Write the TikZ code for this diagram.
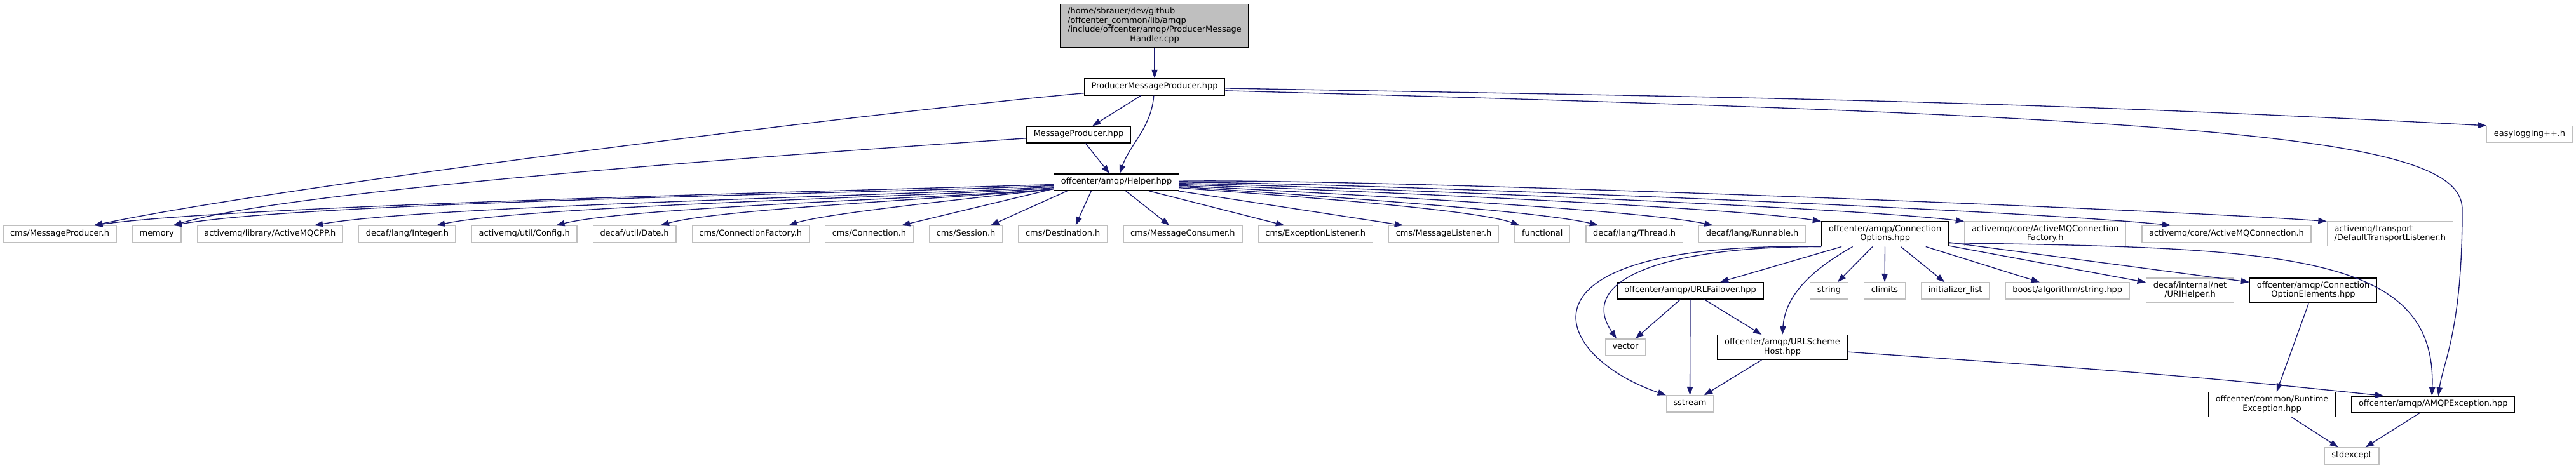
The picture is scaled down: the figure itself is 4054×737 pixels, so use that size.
\documentclass[tikz,border=0pt]{standalone}
\usepackage{fontspec}
\setmainfont{DejaVu Sans}
\usetikzlibrary{arrows.meta,positioning,calc}
\definecolor{edgeblue}{RGB}{25,25,112}
\definecolor{greyline}{RGB}{191,191,191}
\newcommand{\twoline}[2]{\begin{tabular}{@{}l@{}}#1\\\multicolumn{1}{@{}c@{}}{#2}\end{tabular}}

\begin{document}
\begin{tikzpicture}[x=0.75pt, y=-0.75pt, node distance=18pt, every node/.style={font=\fontsize{9.7}{11}\selectfont}, file/.style={draw,fill=white,line width=1pt,inner xsep=8.4pt,inner ysep=3.5pt,minimum height=19.5pt,execute at begin node=\strut}, doc/.style={file,draw=black}, ext/.style={file,draw=greyline}, rootbox/.style={file,draw=black,fill=greyline}, inc/.style={-{Triangle[length=10pt,width=7pt]},line width=1pt,edgeblue}]
\useasboundingbox (0,0) rectangle (4054,737);
\node[rootbox] (root) at (1817,40.5) {\begin{tabular}{@{}l@{}}/home/sbrauer/dev/github\\/offcenter\_common/lib/amqp\\/include/offcenter/amqp/ProducerMessage\\\multicolumn{1}{@{}c@{}}{Handler.cpp}\end{tabular}};
\node[doc] (pmp) at (1817,137) {ProducerMessageProducer.hpp};
\node[doc] (mph) at (1697.5,212) {MessageProducer.hpp};
\node[ext] (elog) at (3981,211.5) {easylogging++.h};
\node[doc] (helper) at (1757,287) {offcenter/amqp/Helper.hpp};
% headers pulled in by Helper.hpp
\node[ext] (cmsmp) at (94,368.5) {cms/MessageProducer.h};
\node[ext,right=of cmsmp] (mem) {memory};
\node[ext,right=of mem] (amqcpp) {activemq/library/ActiveMQCPP.h};
\node[ext,right=of amqcpp] (integer) {decaf/lang/Integer.h};
\node[ext,right=of integer] (config) {activemq/util/Config.h};
\node[ext,right=of config] (date) {decaf/util/Date.h};
\node[ext,right=of date] (connfac) {cms/ConnectionFactory.h};
\node[ext,right=of connfac] (conn) {cms/Connection.h};
\node[ext,right=of conn] (session) {cms/Session.h};
\node[ext,right=of session] (dest) {cms/Destination.h};
\node[ext,right=of dest] (consumer) {cms/MessageConsumer.h};
\node[ext,right=of consumer] (exclist) {cms/ExceptionListener.h};
\node[ext,right=of exclist] (msglist) {cms/MessageListener.h};
\node[ext,right=of msglist] (func) {functional};
\node[ext,right=of func] (thread) {decaf/lang/Thread.h};
\node[ext,right=of thread] (runnable) {decaf/lang/Runnable.h};
\node[doc,right=of runnable] (connopt) {\twoline{offcenter/amqp/Connection}{Options.hpp}};
\node[ext,right=of connopt] (amqcf) {\twoline{activemq/core/ActiveMQConnection}{Factory.h}};
\node[ext,right=of amqcf] (amqconn) {activemq/core/ActiveMQConnection.h};
\node[ext,right=of amqconn] (deftl) {\twoline{activemq/transport}{/DefaultTransportListener.h}};
% headers pulled in by ConnectionOptions.hpp
\node[doc] (urlfail) at (2660,458) {offcenter/amqp/URLFailover.hpp};
\node[ext] (string) at (2878.5,458) {string};
\node[ext,right=of string] (climits) {climits};
\node[ext,right=of climits] (initl) {initializer\_list};
\node[ext,right=of initl] (boost) {boost/algorithm/string.hpp};
\node[ext] (urihelp) at (3446.5,457.5) {\twoline{decaf/internal/net}{/URIHelper.h}};
\node[doc,right=of urihelp] (coe) {\twoline{offcenter/amqp/Connection}{OptionElements.hpp}};
\node[ext] (vector) at (2558,547) {vector};
\node[doc] (urlsh) at (2805,547) {\twoline{offcenter/amqp/URLScheme}{Host.hpp}};
\node[ext] (sstream) at (2659.5,636) {sstream};
\node[doc] (rtex) at (3575.5,637) {\twoline{offcenter/common/Runtime}{Exception.hpp}};
\node[doc,right=of rtex] (amqpex) {offcenter/amqp/AMQPException.hpp};
\node[ext] (stdexc) at (3701,718) {stdexcept};

\draw[inc] (root) -- (pmp);
\draw[inc] (pmp) -- (mph);
\draw[inc] (pmp.-95) .. controls +(-4,50) and +(17,-47) .. (helper.70);
\draw[inc] (mph) -- (helper);
\draw[inc] (pmp.185) .. controls +(-304,27) and +(298,-63) .. ($(cmsmp.north)+(54,0)$);
\draw[inc] (mph.184) .. controls +(-263,18) and +(200,-60) .. ($(mem.north)+(26,0)$);
\draw[inc] (pmp.-1) .. controls +(778,14) and +(-777,-41) .. (elog.north west);
\draw[inc] (pmp.-3) .. controls (3500,185) and (3875,215) .. (3875,330) .. controls (3875,520) and (3845,570) .. ($(amqpex.north)+(8,0)$);
% Helper.hpp fan
\draw[inc] (helper.182) .. controls +(-237,8) and +(235,-33) .. ($(cmsmp.north)+(54,0)$);
\draw[inc] (helper.183) .. controls +(-218,11) and +(215,-38) .. ($(mem.north)+(26,0)$);
\draw[inc] (helper.184) .. controls +(-183,13) and +(180,-32) .. ($(amqcpp.north)+(70,0)$);
\draw[inc] (helper.185) .. controls +(-152,13) and +(150,-32) .. ($(integer.north)+(46,0)$);
\draw[inc] (helper.186) .. controls +(-123,13) and +(120,-30) .. ($(config.north)+(50,0)$);
\draw[inc] (helper.186) .. controls +(-98,12) and +(95,-27) .. ($(date.north)+(41,0)$);
\draw[inc] (helper.186) .. controls +(-66,9) and +(64,-21) .. ($(connfac.north)+(60,0)$);
\draw[inc] (helper.186) -- ($(conn.north)+(51,0)$);
\draw[inc] (helper.190) -- ($(session.north)+(39,0)$);
\draw[inc] (helper.199) -- ($(dest.north)+(20,0)$);
\draw[inc] (helper.-43) -- ($(consumer.north)+(-21,0)$);
\draw[inc] (helper.-15) -- ($(exclist.north)+(-49,0)$);
\draw[inc] (helper.-8) -- ($(msglist.north)+(-64,0)$);
\draw[inc] (helper.-5) .. controls +(83,7) and +(-78,-28) .. ($(func.north)+(-36,0)$);
\draw[inc] (helper.-4) .. controls +(102,7) and +(-99,-25) .. ($(thread.north)+(-57,0)$);
\draw[inc] (helper.-3) .. controls +(130,7) and +(-127,-27) .. ($(runnable.north)+(-62,0)$);
\draw[inc] (helper.-2) .. controls +(156,5) and +(-154,-24) .. (connopt.north west);
\draw[inc] (helper.-1) .. controls +(191,3) and +(-190,-23) .. (amqcf.north west);
\draw[inc] (helper.0) .. controls +(242,0) and +(-241,-25) .. ($(amqconn.north west)+(46,0)$);
\draw[inc] (helper.1) .. controls +(280,-5) and +(-279,-20) .. (deftl.north west);
% ConnectionOptions.hpp
\draw[inc] (connopt) -- (urlfail);
\draw[inc] (connopt.south west) .. controls (2620,388) and (2480,440) .. ($(vector.north)+(-14,0)$);
\draw[inc] (connopt.south west) .. controls (2360,380) and (2440,560) .. (sstream.160);
\draw[inc] ($(connopt.south)+(-51,0)$) .. controls (2860,420) and (2810,460) .. (urlsh.north);
\draw[inc] (connopt) -- (string);
\draw[inc] (connopt) -- (climits);
\draw[inc] (connopt) -- (initl);
\draw[inc] (connopt) -- (boost);
\draw[inc] (connopt) -- (urihelp);
\draw[inc] (connopt) -- (coe);
\draw[inc] (connopt.-8) .. controls (3600,390) and (3835,400) .. ($(amqpex.north)+(-2,0)$);
\draw[inc] (urlfail) -- (vector);
\draw[inc] (urlfail) -- (sstream);
\draw[inc] (urlfail) -- (urlsh);
\draw[inc] (urlsh) -- (sstream);
\draw[inc] (urlsh.-4) .. controls +(331,23) and +(-330,-35) .. ($(amqpex.north west)+(51,0)$);
\draw[inc] (coe) -- (rtex);
\draw[inc] (rtex) -- (stdexc);
\draw[inc] (amqpex) -- (stdexc);
\end{tikzpicture}
\end{document}
